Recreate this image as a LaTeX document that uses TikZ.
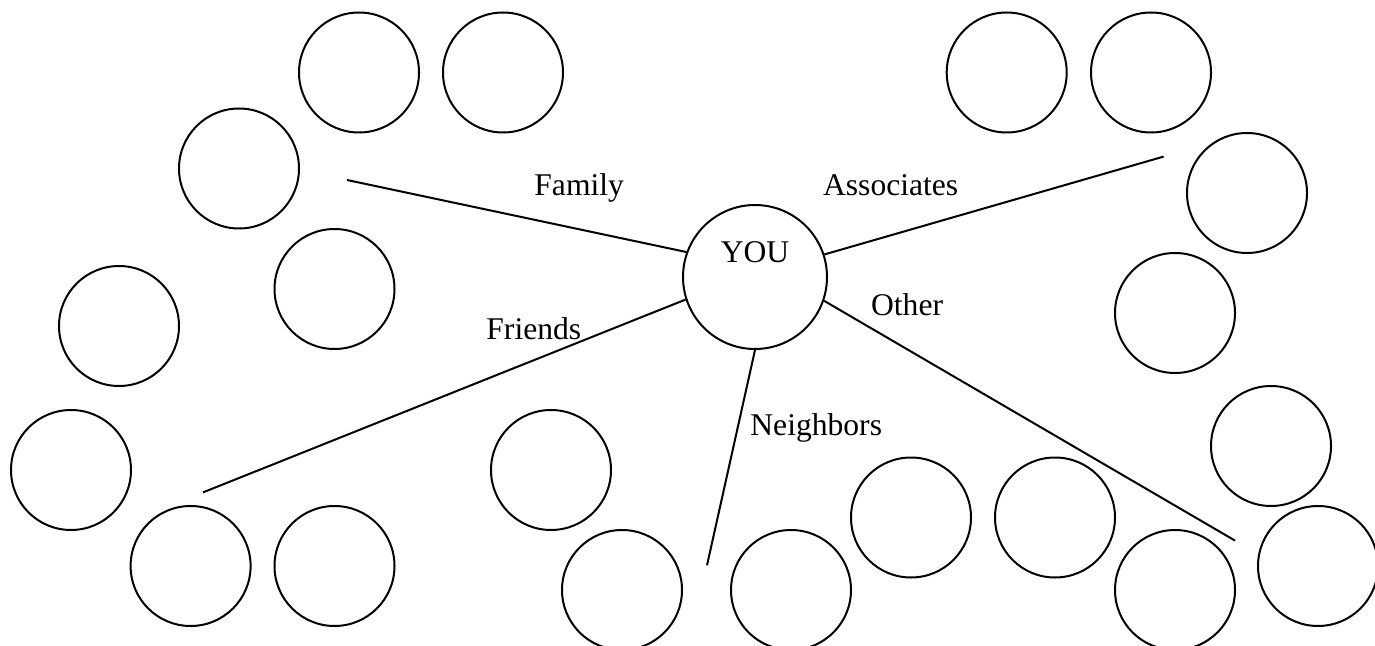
\documentclass[tikz,border=0pt]{standalone}
\usepackage{fontspec}
\setmainfont{Liberation Serif}
\begin{document}
\begin{tikzpicture}[x=0.5pt,y=-0.5pt,
  person/.style={circle,draw,line width=1pt,minimum size=60pt,inner sep=0pt},
  you/.style={circle,draw,line width=1pt,minimum size=72pt,inner sep=0pt},
  link/.style={line width=1pt},
  lbl/.style={anchor=base west,inner sep=0pt,font=\fontsize{15.8}{19}\selectfont}]
\useasboundingbox (0,0) rectangle (1375,646);
% centre
\node[you] (you) at (755,277) {};
\node[lbl,anchor=base] (youtxt) at (755,263) {YOU};
% circles
\node[person] (c1) at (359,72.5) {};
\node[person] (c2) at (503,72.5) {};
\node[person] (c3) at (239,168.5) {};
\node[person] (c4) at (334.5,289) {};
\node[person] (c5) at (119,326) {};
\node[person] (c6) at (71,470) {};
\node[person] (c7) at (190.6,566) {};
\node[person] (c8) at (334.5,566) {};
\node[person] (c9) at (551,470) {};
\node[person] (c10) at (622,590) {};
\node[person] (c11) at (791,590) {};
\node[person] (c12) at (911,517.5) {};
\node[person] (c13) at (1055,517.5) {};
\node[person] (c14) at (1175,590) {};
\node[person] (c15) at (1318,566) {};
\node[person] (c16) at (1271,446) {};
\node[person] (c17) at (1175,313) {};
\node[person] (c18) at (1247,193) {};
\node[person] (c19) at (1151,72.5) {};
\node[person] (c20) at (1006.7,72.5) {};
% free ends
\coordinate (fam) at (347,180);
\coordinate (fri) at (203,492.4);
\coordinate (ass) at (1163.6,156.6);
\coordinate (oth) at (1235,540.6);
\coordinate (nei) at (707,565.3);
% connectors
\draw[link] (you.160.9) -- (fam);
\draw[link] (you.198.3) -- (fri);
\draw[link] (you.18.9) -- (ass);
\draw[link] (you.341.5) -- (oth);
\draw[link] (you.270) -- (nei);
% labels
\node[lbl] (lfam) at (534,196) {Family};
\node[lbl] (lfri) at (486,340) {Friends};
\node[lbl] (lass) at (822.7,196) {Associates};
\node[lbl] (loth) at (870.7,316) {Other};
\node[lbl] (lnei) at (750,436) {Neighbors};
\end{tikzpicture}
\end{document}
